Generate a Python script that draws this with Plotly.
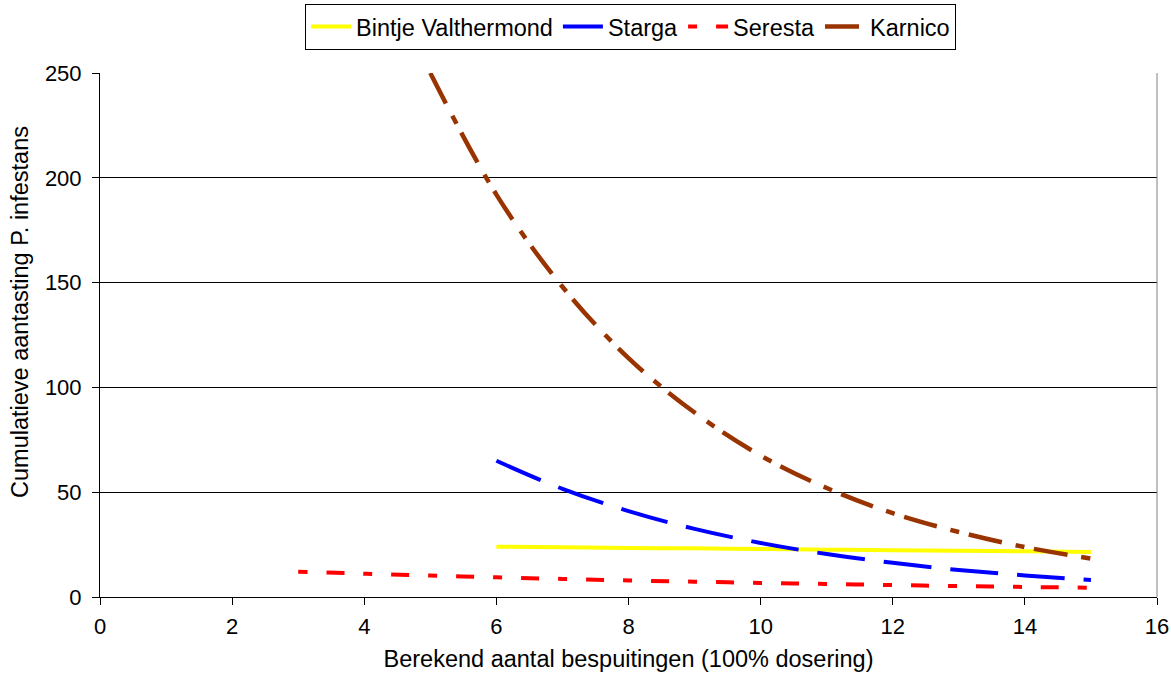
import plotly.graph_objects as go

# Data
bintje_x = [6, 7, 8, 9, 10, 11, 12, 13, 14, 15]
bintje_y = [24.0, 23.7, 23.4, 23.2, 22.9, 22.6, 22.3, 22.1, 21.8, 21.5]

starga_x = [6, 7, 8, 9, 10, 11, 12, 13, 14, 15]
starga_y = [65, 51.6, 41, 32.5, 25.8, 20.5, 16.3, 12.9, 10.3, 8.1]

seresta_x = [3, 4, 5, 6, 7, 8, 9, 10, 11, 12, 13, 14, 15]
seresta_y = [12.1, 11.1, 10.2, 9.4, 8.6, 7.9, 7.3, 6.7, 6.2, 5.7, 5.2, 4.8, 4.4]

karnico_x = [5, 6, 7, 8, 9, 10, 11, 12, 13, 14, 15]
karnico_y = [250, 192, 148, 114, 88, 67.5, 52, 40, 31, 23.8, 18.3]

x_ticks = [0, 2, 4, 6, 8, 10, 12, 14, 16]
y_ticks = [0, 50, 100, 150, 200, 250]

x_title = "Berekend aantal bespuitingen (100% dosering)"
y_title = "Cumulatieve aantasting P. infestans"

FONT = "Liberation Sans, Arial, sans-serif"

fig = go.Figure()
fig.add_trace(go.Scatter(x=bintje_x, y=bintje_y, mode="lines", name="Bintje Valthermond",
                         line=dict(color="#FFFF00", width=4, shape="spline")))
fig.add_trace(go.Scatter(x=starga_x, y=starga_y, mode="lines", name="Starga",
                         line=dict(color="#0000FF", width=4, shape="spline", dash="48px,19px")))
fig.add_trace(go.Scatter(x=seresta_x, y=seresta_y, mode="lines", name="Seresta",
                         line=dict(color="#FF0000", width=4, shape="spline", dash="9px,19px,18px,19px")))
fig.add_trace(go.Scatter(x=karnico_x, y=karnico_y, mode="lines", name="Karnico",
                         line=dict(color="#993300", width=4.5, shape="spline", dash="34px,14px,9px,10px")))

fig.update_layout(
    width=1171, height=675,
    margin=dict(l=100, r=14, t=73, b=78, autoexpand=False),
    paper_bgcolor="white", plot_bgcolor="white",
    font=dict(family=FONT, size=18, color="black"),
    showlegend=True,
    legend=dict(orientation="h", x=0.502, xanchor="center", y=1.132, yanchor="top",
                bordercolor="black", borderwidth=1, bgcolor="white",
                font=dict(family=FONT, size=23.5), itemwidth=40, tracegroupgap=0),
    xaxis=dict(range=[0, 16], tickvals=x_ticks, ticktext=[str(v) for v in x_ticks],
               showgrid=False, zeroline=False, showline=True, linecolor="#000000", linewidth=1,
               ticks="outside", ticklen=7, tickcolor="#000000", automargin=False,
               ticklabelstandoff=3, tickfont=dict(size=22),
               title=dict(text=x_title, standoff=12,
                          font=dict(family=FONT, size=23.5))),
    yaxis=dict(range=[0, 250], tickvals=y_ticks, ticktext=[str(v) for v in y_ticks],
               showgrid=True, gridcolor="#000000", gridwidth=1, zeroline=False,
               showline=True, linecolor="#000000", linewidth=1,
               ticks="outside", ticklen=7, tickcolor="#000000", automargin=False,
               ticklabelstandoff=6, tickfont=dict(size=22)),
    annotations=[dict(text=y_title, textangle=-90, xref="paper", yref="paper",
                      x=-0.0757, y=0.544, xanchor="center", yanchor="middle",
                      showarrow=False, font=dict(family=FONT, size=23.5))],
    shapes=[dict(type="line", xref="paper", yref="paper", x0=1, x1=1, y0=0, y1=1,
                 line=dict(color="#808080", width=1))],
)

fig.write_html("out.html", config={"displayModeBar": False},
               post_script="document.body.style.margin='0';document.body.style.overflow='hidden';")
